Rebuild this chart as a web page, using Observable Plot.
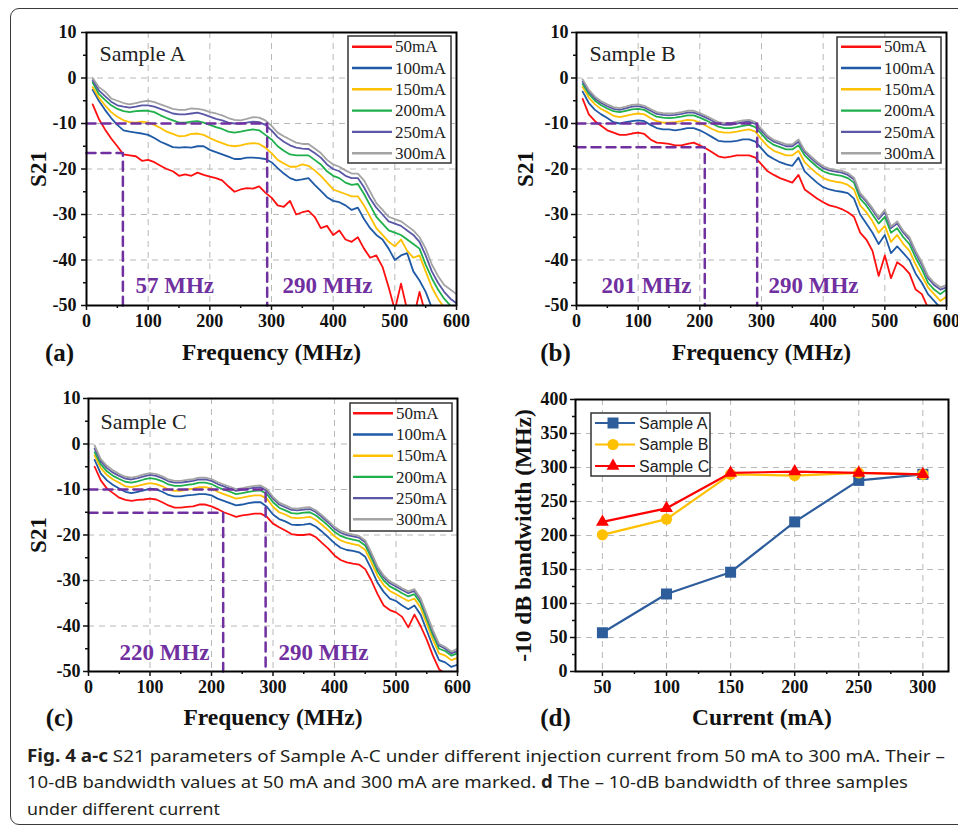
<!DOCTYPE html>
<html><head><meta charset="utf-8">
<script src="https://cdn.jsdelivr.net/npm/d3@7"></script>
<script src="https://cdn.jsdelivr.net/npm/@observablehq/plot@0.6"></script>
<style>
html,body{margin:0;padding:0;background:#fff;}
#root{position:relative;width:958px;height:827px;overflow:hidden;background:#fff;}
#root svg{position:absolute;overflow:visible;}
#border{position:absolute;left:10px;top:8px;width:990px;height:817px;border:1.5px solid #3a3a3a;border-radius:9px;box-sizing:border-box;}
</style></head><body><div id="root"><div id="border"></div></div>
<script>
// ---------------- data ----------------
const freq = [10,20,30,40,50,60,70,80,90,100,110,120,130,140,150,160,170,180,190,200,210,220,230,240,250,260,270,280,290,300,310,320,330,340,350,360,370,380,390,400,410,420,430,440,450,460,470,480,490,500,510,520,530,540,550,560,570,580,590,600];
const currentLabels = ["50mA","100mA","150mA","200mA","250mA","300mA"];
const currentColors = ["#ff1010","#1f5aa6","#ffc000","#1fb04c","#5a58a6","#a4a4a4"];

const A50  = [-5.8,-9,-11.3,-13.3,-15,-16.8,-17,-17.2,-18.2,-18, -18.5,-19.3,-20,-20.5,-21.5,-21.2,-21.5,-20.8,-21.3,-21.7, -22,-22.5,-23.8,-25,-24.5,-24.2,-24.3,-23.8,-25.2,-26.3, -28,-28.3,-27,-30,-29.5,-29.2,-30.5,-33,-32.5,-34.5, -33.5,-35.5,-36,-35,-37.5,-39.5,-39,-41.5,-46,-51, -45.2,-51,-53,-47,-52,-55,-57,-58,-59,-60];
const A100 = [-2.6,-5,-7,-8.8,-10.3,-11.5,-11.8,-12,-12.2,-12.5, -13.2,-14,-14.6,-15.2,-15.3,-15.2,-15.3,-15,-15,-15.8, -16.3,-16.8,-17.3,-17.8,-17.8,-17.5,-17.5,-17.6,-17.8,-18.5, -19.8,-21,-22,-22.5,-22.3,-22,-23.5,-24.8,-26.2,-27, -27.3,-28,-29,-28.5,-31,-33,-34.5,-35.5,-37.5,-40, -39,-38.5,-42.5,-44.5,-47,-50.5,-52,-54,-56,-57];
const A150 = [-2,-4.3,-6,-7.5,-8.5,-9.3,-9.7,-9.8,-9.6,-9.8, -10.3,-11,-11.8,-12.3,-12.8,-12.7,-12.3,-12.2,-12.5,-13.2, -13.8,-14.3,-14.8,-15,-14.8,-14.5,-14.3,-14.5,-15.3,-16.5, -18,-18.8,-19.5,-19.5,-19,-19.3,-20.3,-21.5,-23,-24.5, -25,-25.5,-26,-26,-28,-30.5,-33,-34.5,-36,-37, -35.5,-38,-39.5,-39,-42.5,-46,-48.5,-50.5,-52,-53];
const A200 = [-1,-3.5,-4.8,-6,-6.8,-7.3,-7.5,-7.3,-7.2,-7.2, -7.5,-8.2,-8.8,-9.3,-9.8,-9.8,-9.6,-9.5,-9.8,-10.3, -10.8,-11.2,-11.8,-12,-11.8,-11.5,-11.3,-11.5,-12.5,-13.5, -15,-16,-16.8,-17,-17,-17,-18,-19,-20.5,-21.5, -22,-23,-23.5,-23.3,-25.5,-28,-30.5,-32,-33.5,-34, -34.5,-35.5,-36.5,-37.5,-41,-44,-46.5,-48.5,-50,-51];
const A250 = [-0.5,-2.7,-4,-5.2,-6,-6.3,-6.5,-6.3,-6,-6, -6.3,-6.8,-7.3,-7.8,-8,-8,-7.8,-7.6,-8,-8.5, -9,-9.3,-9.8,-10,-10,-9.8,-9.6,-9.7,-10.3,-11.5, -13,-14,-14.8,-15.3,-15.5,-15.6,-16.5,-17.5,-19,-20, -20.5,-21.5,-22,-22,-24,-26.5,-28.5,-30,-31.5,-32, -32.5,-33.5,-34.5,-36,-39,-42.5,-45,-47,-48.5,-49.5];
const A300 = [0,-2,-3,-4.5,-5,-5.5,-5.8,-5.5,-5.2,-5, -5.3,-5.8,-6.3,-6.8,-7,-7,-6.7,-6.8,-7,-7.5, -7.8,-8.2,-8.8,-9.2,-9.3,-9,-8.6,-8.7,-9.3,-10.5, -12,-12.8,-13.5,-14.2,-14.5,-14.5,-15.5,-16.5,-18,-19, -19.5,-20.3,-21,-21,-22.5,-25,-27.5,-29,-30.5,-31, -31.5,-32.5,-33.5,-35,-37.5,-41,-43.5,-45.5,-46.5,-47.5];

const B50  = [-4.6,-8,-9.5,-10.5,-11.5,-12,-12.5,-12.5,-12.2,-12, -12.3,-13.5,-14.2,-14.3,-14.5,-14.8,-14.8,-14.5,-14.2,-14.8, -15.5,-16.3,-17.2,-17.5,-17.3,-17,-17,-17,-17.5,-19, -20.5,-21.3,-22,-22.5,-23,-21.3,-24.5,-25.5,-26.5,-27.3, -28,-28.3,-28.8,-29.5,-30.5,-34,-35.5,-38,-43.5,-39, -44,-40.5,-41.5,-43,-46.5,-47.5,-50.5,-52,-53,-54];
const B100 = [-3,-5.5,-7,-8,-8.8,-9.7,-10,-9.7,-9.5,-9.3, -9.5,-10.3,-11,-11.3,-11.3,-11.5,-11.3,-11,-11,-11.5, -12.2,-13,-13.8,-14,-14,-13.8,-13.5,-13.5,-14,-15.5, -17,-17.8,-18.5,-19,-19.3,-17.5,-20.5,-21.8,-23,-24, -24.5,-24.8,-25,-25.3,-26.5,-30,-32,-34,-36.5,-34.5, -38.5,-37,-38.5,-40,-43,-45,-47.5,-49,-50.5,-51];
const B150 = [-2,-4.3,-5.8,-6.8,-7.5,-8.3,-8.6,-8.3,-8,-7.8, -8,-8.8,-9.5,-9.8,-9.8,-9.7,-9.5,-9.2,-9.3,-9.8, -10.5,-11.2,-11.8,-12,-12,-11.8,-11.5,-11.3,-11.8,-13.5, -15,-16,-16.5,-17,-17,-16,-18.5,-19.8,-21,-22, -22.5,-22.8,-23,-23.5,-24.5,-28,-29.5,-31.5,-34,-32.5, -36,-34.5,-36.5,-38,-41,-43.5,-46,-47.5,-49,-48];
const B200 = [-1.3,-3.5,-5,-6,-6.7,-7.3,-7.5,-7.2,-6.9,-6.8, -7,-7.8,-8.5,-8.7,-8.8,-8.7,-8.5,-8.2,-8.2,-8.7, -9.3,-10,-10.7,-11,-11,-10.8,-10.5,-10.3,-10.8,-12.3, -13.8,-14.7,-15.2,-15.7,-15.7,-14.8,-17,-18.3,-19.5,-20.5, -21,-21.3,-21.5,-22,-23,-26.5,-28,-30,-32,-30.5, -34,-33,-35,-36.5,-39.5,-42,-45,-46.5,-47.5,-46.5];
const B250 = [-0.8,-3,-4.5,-5.5,-6.2,-6.8,-7,-6.7,-6.3,-6.2, -6.5,-7.2,-7.9,-8.1,-8.2,-8.1,-7.9,-7.6,-7.6,-8.1, -8.7,-9.4,-10.1,-10.3,-10.3,-10,-9.7,-9.6,-10.1,-11.6, -13.1,-14,-14.5,-15,-15,-14,-16.3,-17.6,-18.8,-19.8, -20.3,-20.6,-20.8,-21.3,-22.3,-25.7,-27.2,-29,-31,-29.5, -33,-32,-34,-35.5,-38.5,-41,-44,-45.5,-46.5,-46];
const B300 = [-0.3,-2.6,-4.1,-5.1,-5.8,-6.4,-6.6,-6.3,-5.9,-5.8, -6.1,-6.8,-7.5,-7.7,-7.8,-7.7,-7.5,-7.2,-7.2,-7.7, -8.3,-9,-9.7,-9.9,-9.9,-9.6,-9.3,-9.2,-9.7,-11.2, -12.7,-13.6,-14.1,-14.6,-14.6,-13.5,-15.9,-17.2,-18.4,-19.4, -19.9,-20.2,-20.4,-20.9,-21.9,-25.3,-26.8,-28.6,-30.6,-29, -32.6,-31.5,-33.6,-35,-38,-40.5,-43.5,-45,-46,-45.5];

const C50  = [-5,-8,-9.8,-10.8,-11.8,-12.3,-12.5,-12.3,-12.2,-12, -12.2,-12.8,-13.5,-14,-14,-13.8,-13.7,-13.3,-13.3,-13.7, -14.3,-15,-15.5,-16,-15.7,-15.5,-15.3,-15.3,-16,-17.5, -18.3,-19,-19.8,-20,-20,-19.8,-20.5,-21.8,-23,-24.5, -25.5,-26,-26.3,-26.5,-27.5,-30,-33,-35.5,-36.5,-37, -38,-40.3,-37.5,-40,-43,-46.5,-49.5,-50.5,-51,-50];
const C100 = [-3.5,-6.5,-8,-9,-9.8,-10.5,-10.8,-10.5,-10.2,-9.8, -10,-10.5,-11.2,-11.5,-11.5,-11.3,-11.2,-11,-11,-11.3, -12,-12.5,-13,-13.5,-13.3,-13,-12.8,-12.8,-13.8,-15.5, -16.5,-17,-17.7,-17.8,-17.7,-17.5,-18.2,-19.3,-20.5,-21.8, -22.8,-23.3,-23.5,-23.8,-24.8,-27.5,-30.5,-32.5,-34,-34.5, -35.5,-36.3,-35.5,-37.5,-41,-44.5,-47.5,-48,-49,-48.5];
const C150 = [-2.5,-5.3,-6.8,-7.8,-8.5,-9.3,-9.5,-9.2,-8.9,-8.6, -8.8,-9.3,-10,-10.3,-10.3,-10,-9.8,-9.5,-9.5,-9.8, -10.5,-11,-11.5,-12,-11.8,-11.5,-11.3,-11.3,-12,-13.8, -15,-15.5,-16.2,-16.3,-16.2,-16,-16.7,-17.8,-19,-20.3, -21.2,-21.7,-22,-22.3,-23.3,-26,-29,-31,-32.3,-33, -33.8,-34.5,-34,-36,-39.5,-43,-46,-46.5,-47.5,-47];
const C200 = [-1.8,-4.5,-6,-7,-7.7,-8.3,-8.5,-8.2,-7.8,-7.5, -7.7,-8.2,-8.9,-9.2,-9.2,-9,-8.8,-8.5,-8.5,-8.8, -9.5,-10,-10.5,-11,-10.8,-10.5,-10.3,-10.2,-11,-12.8, -14,-14.6,-15.2,-15.3,-15.1,-15,-15.7,-16.8,-18,-19.3, -20.2,-20.7,-21,-21.3,-22.3,-25,-28,-30,-31.3,-32, -32.8,-33.5,-33,-35,-38.5,-42,-45,-45.5,-46.5,-46];
const C250 = [-1,-3.8,-5.3,-6.3,-7,-7.6,-7.8,-7.5,-7.1,-6.8, -7,-7.5,-8.2,-8.5,-8.5,-8.3,-8.1,-7.8,-7.8,-8.1, -8.8,-9.3,-9.8,-10.3,-10.1,-9.8,-9.6,-9.5,-10.3,-12, -13.3,-13.9,-14.5,-14.6,-14.4,-14.3,-15,-16.1,-17.3,-18.6, -19.5,-20,-20.3,-20.6,-21.6,-24.3,-27.3,-29.3,-30.6,-31.3, -32.1,-32.8,-32.3,-34.3,-37.8,-41.3,-44.3,-45,-46,-45.5];
const C300 = [-0.3,-3.3,-4.8,-5.8,-6.6,-7.2,-7.4,-7.1,-6.7,-6.4, -6.6,-7.1,-7.8,-8.1,-8.1,-7.9,-7.7,-7.4,-7.4,-7.7, -8.4,-8.9,-9.4,-9.9,-9.7,-9.4,-9.2,-9.1,-9.9,-11.6, -12.9,-13.5,-14.1,-14.2,-14,-13.9,-14.6,-15.7,-16.9,-18.2, -19.1,-19.6,-19.9,-20.2,-21.2,-23.9,-26.9,-28.9,-30.2,-30.9, -31.7,-32.4,-31.9,-33.9,-37.4,-40.9,-43.9,-44.6,-45.6,-45];

// -10 dB bandwidth markers as drawn (frequency of dashed line, level of horizontal line)
const markFreqA = [59, 293];   const markLevelA = [-16.5, -10];   const markTextA = ["57 MHz", "290 MHz"];
const markFreqB = [208, 293];  const markLevelB = [-15.2, -10];   const markTextB = ["201 MHz", "290 MHz"];
const markFreqC = [219, 288];  const markLevelC = [-15.1, -10];   const markTextC = ["220 MHz", "290 MHz"];

const freqTicks = [0,100,200,300,400,500,600];
const freqMinor = [50,150,250,350,450,550];
const s21Ticks = [-50,-40,-30,-20,-10,0,10];
const s21Minor = [-45,-35,-25,-15,-5,5];

// panel d
const currents = [50,100,150,200,250,300];
const currentMinor = [75,125,175,225,275];
const bwTicks = [0,50,100,150,200,250,300,350,400];
const bwMinor = [25,75,125,175,225,275,325,375];
const sampleNames = ["Sample A","Sample B","Sample C"];
const sampleColors = ["#2e5d9c","#ffc000","#ff0000"];
const sampleSymbols = ["square","circle","triangle"];
const sampleR = [6.2,5.6,4.8];
const bwA = [57,114,146,220,281,290];
const bwB = [201,224,290,288,292,290];
const bwC = [220,240,292,294,292,290];

// ---------------- drawing ----------------
const SERIF = "'Liberation Serif','Times New Roman',serif";
const SANS = "'Liberation Sans',Arial,sans-serif";
const MARK = "#7030a0";
const GRID = {stroke:"#b8b8b8", strokeDasharray:"6,5", strokeOpacity:1, strokeWidth:1};
const root = document.getElementById("root");

function place(svg, left, top){
  svg.style.left = left + "px"; svg.style.top = top + "px";
  root.appendChild(svg);
}
function txt(str, o){
  return Plot.text([str], Object.assign({text: d => d, fontFamily: SERIF, fill: "#111", textAnchor: "middle", lineAnchor: "middle"}, o));
}
function axes(xt, xm, yt, ym, pad){
  const common = {fontFamily: SERIF, fontSize: 18, fontWeight: "bold", strokeWidth: 1.5, label: null, fill: "#111"};
  return [
    Plot.axisX(Object.assign({}, common, {ticks: xt, tickSize: 5, tickPadding: 4, tickFormat: d => String(d)})),
    Plot.axisX({ticks: xm, tickSize: 3, tickFormat: () => "", label: null, strokeWidth: 1.5}),
    Plot.axisY(Object.assign({}, common, {ticks: yt, tickSize: 5, tickPadding: pad, tickFormat: d => String(d)})),
    Plot.axisY({ticks: ym, tickSize: 3, tickFormat: () => "", label: null, strokeWidth: 1.5})
  ];
}

function spectrumPanel(cfg){
  const rows = [];
  cfg.series.forEach((vals, i) => vals.forEach((v, j) => rows.push({f: freq[j], v, s: currentLabels[i]})));
  const markRows = [];
  cfg.markFreq.forEach((f, k) => {
    const lv = cfg.markLevel[k];
    markRows.push({f: 0, v: lv, k}, {f, v: lv, k}, {f, v: -50, k});
  });
  const plot = Plot.plot({
    width: cfg.width, height: cfg.height,
    marginLeft: cfg.m[0], marginTop: cfg.m[1], marginRight: cfg.m[2], marginBottom: cfg.m[3],
    x: {domain: [0, 600]}, y: {domain: [-50, 10]},
    color: {domain: currentLabels, range: currentColors},
    style: {background: "transparent", color: "#111", overflow: "visible"},
    marks: [
      Plot.gridX([100,200,300,400,500], GRID),
      Plot.gridY([-40,-30,-20,-10,0], GRID),
      Plot.line(rows, {x: "f", y: "v", z: "s", stroke: "s", strokeWidth: 1.8, clip: true}),
      Plot.line(markRows, {x: "f", y: "v", z: "k", stroke: MARK, strokeWidth: 2.5, strokeDasharray: "9,6"}),
      Plot.frame({stroke: "#000", strokeWidth: 2}),
      ...axes(freqTicks, freqMinor, s21Ticks, s21Minor, cfg.pad),
      txt(cfg.sample, {frameAnchor: "top-left", dx: cfg.sampleDx, dy: cfg.sampleDy, textAnchor: "start", fontSize: 22, fill: "#222"}),
      txt(cfg.markText[0], {frameAnchor: "bottom-left", dx: cfg.mtDx[0], dy: cfg.mtDy, textAnchor: "start", fontSize: 23, fontWeight: "bold", fill: MARK}),
      txt(cfg.markText[1], {frameAnchor: "bottom-left", dx: cfg.mtDx[1], dy: cfg.mtDy, textAnchor: "start", fontSize: 23, fontWeight: "bold", fill: MARK}),
      txt("S21", {frameAnchor: "left", dx: cfg.s21Dx, rotate: -90, fontSize: 23, fontWeight: "bold"}),
      txt("Frequency (MHz)", {frameAnchor: "bottom", dy: cfg.titleDy, fontSize: 23.5, fontWeight: "bold"}),
      txt(cfg.tag, {frameAnchor: "bottom-left", dx: cfg.tagDx, dy: cfg.titleDy, fontSize: 25, fontWeight: "bold"})
    ]
  });
  // legend
  const g = d3.select(plot).append("g").attr("text-anchor", "start");
  const L = cfg.legend;
  g.append("rect").attr("x", L.box[0]).attr("y", L.box[1]).attr("width", L.box[2]-L.box[0]).attr("height", L.box[3]-L.box[1])
    .attr("fill", "#fff").attr("stroke", "#333").attr("stroke-width", 1.5);
  currentLabels.forEach((lab, i) => {
    const y = L.y0 + i * L.dy;
    g.append("line").attr("x1", L.lx[0]).attr("x2", L.lx[1]).attr("y1", y).attr("y2", y)
      .attr("stroke", currentColors[i]).attr("stroke-width", 2.4);
    g.append("text").attr("x", L.tx).attr("y", y).attr("dy", "0.33em").attr("font-family", SERIF)
      .attr("text-anchor", "start").attr("font-size", 17).attr("fill", "#222").text(lab);
  });
  place(plot, cfg.left, cfg.top);
}

spectrumPanel({
  left: 0, top: 0, width: 479, height: 372, m: [86, 32, 23, 67], pad: 5,
  series: [A50, A100, A150, A200, A250, A300],
  markFreq: markFreqA, markLevel: markLevelA, markText: markTextA,
  sample: "Sample A", sampleDx: 13, sampleDy: 21, mtDx: [49, 196], mtDy: -20,
  s21Dx: -48, titleDy: 47, tag: "(a)", tagDx: -27,
  legend: {box: [348, 36, 451, 163], lx: [352, 392], tx: 395, y0: 46.7, dy: 21.3}
});
spectrumPanel({
  left: 479, top: 0, width: 479, height: 372, m: [97, 32, 12, 67], pad: 3,
  series: [B50, B100, B150, B200, B250, B300],
  markFreq: markFreqB, markLevel: markLevelB, markText: markTextB,
  sample: "Sample B", sampleDx: 13, sampleDy: 21, mtDx: [25, 192], mtDy: -20,
  s21Dx: -51, titleDy: 47, tag: "(b)", tagDx: -21,
  legend: {box: [358, 37, 462, 163], lx: [362, 402], tx: 405, y0: 46.7, dy: 21.3}
});
spectrumPanel({
  left: 0, top: 372, width: 479, height: 368, m: [88, 26, 22, 69], pad: 3,
  series: [C50, C100, C150, C200, C250, C300],
  markFreq: markFreqC, markLevel: markLevelC, markText: markTextC,
  sample: "Sample C", sampleDx: 12, sampleDy: 23, mtDx: [31, 190], mtDy: -19,
  s21Dx: -50, titleDy: 46, tag: "(c)", tagDx: -29,
  legend: {box: [350, 31, 452, 159], lx: [353, 393], tx: 396, y0: 41.3, dy: 21.2}
});

// panel d
(function(){
  const series = [bwA, bwB, bwC];
  const marks = [
    Plot.gridX(currents, GRID),
    Plot.gridY([50,100,150,200,250,300,350], GRID)
  ];
  series.forEach((vals, i) => {
    const rows = currents.map((c, j) => ({c, bw: vals[j]}));
    marks.push(Plot.line(rows, {x: "c", y: "bw", stroke: sampleColors[i], strokeWidth: 2.2}));
    marks.push(Plot.dot(rows, {x: "c", y: "bw", fill: sampleColors[i], stroke: "none", symbol: sampleSymbols[i], r: sampleR[i]}));
  });
  marks.push(
    Plot.frame({stroke: "#000", strokeWidth: 2}),
    ...axes(currents, currentMinor, bwTicks, bwMinor, 3),
    txt("-10 dB bandwidth (MHz)", {frameAnchor: "left", dx: -52, rotate: -90, fontSize: 23.5, fontWeight: "bold"}),
    txt("Current (mA)", {frameAnchor: "bottom", dy: 46, fontSize: 23.5, fontWeight: "bold"}),
    txt("(d)", {frameAnchor: "bottom-left", dx: -20, dy: 46, fontSize: 25, fontWeight: "bold"})
  );
  const plot = Plot.plot({
    width: 479, height: 368, marginLeft: 96, marginTop: 27, marginRight: 10, marginBottom: 69,
    x: {domain: [29, 320]}, y: {domain: [0, 400]},
    style: {background: "transparent", color: "#111", overflow: "visible"},
    marks
  });
  const g = d3.select(plot).append("g").attr("text-anchor", "start");
  g.append("rect").attr("x", 112).attr("y", 41).attr("width", 119).attr("height", 63)
    .attr("fill", "#fff").attr("stroke", "#333").attr("stroke-width", 1.5);
  const symMap = {square: d3.symbolSquare, circle: d3.symbolCircle, triangle: d3.symbolTriangle};
  sampleNames.forEach((nm, i) => {
    const y = 51 + i * 21.5;
    g.append("line").attr("x1", 116).attr("x2", 156).attr("y1", y).attr("y2", y)
      .attr("stroke", sampleColors[i]).attr("stroke-width", 2.2);
    g.append("path").attr("transform", `translate(134,${y})`)
      .attr("d", d3.symbol().type(symMap[sampleSymbols[i]]).size(Math.PI * sampleR[i] * sampleR[i])())
      .attr("fill", sampleColors[i]);
    g.append("text").attr("x", 160).attr("y", y).attr("dy", "0.35em").attr("font-family", SANS)
      .attr("text-anchor", "start").attr("font-size", 16).attr("fill", "#222").text(nm);
  });
  place(plot, 479, 372);
})();

// caption
(function(){
  const lines = [
    {parts: [["Fig. 4 a-c", true], [" S21 parameters of Sample A-C under different injection current from 50 mA to 300 mA. Their \u2013", false]], len: 918},
    {parts: [["10-dB bandwidth values at 50 mA and 300 mA are marked. ", false], ["d", true], [" The \u2013 10-dB bandwidth of three samples", false]], len: 881},
    {parts: [["under different current", false]], len: 193}
  ];
  const svg = d3.create("svg").attr("width", 958).attr("height", 92);
  lines.forEach((ln, i) => {
    const t = svg.append("text").attr("x", 27).attr("y", 26.7 + i * 26.6)
      .attr("font-family", "'Noto Sans','Open Sans',sans-serif").attr("font-size", 17).attr("fill", "#231f20")
      .attr("textLength", ln.len).attr("lengthAdjust", "spacingAndGlyphs");
    ln.parts.forEach(([s, b]) => t.append("tspan").attr("font-weight", b ? "bold" : "normal").text(s));
  });
  place(svg.node(), 0, 735);
})();
</script></body></html>
